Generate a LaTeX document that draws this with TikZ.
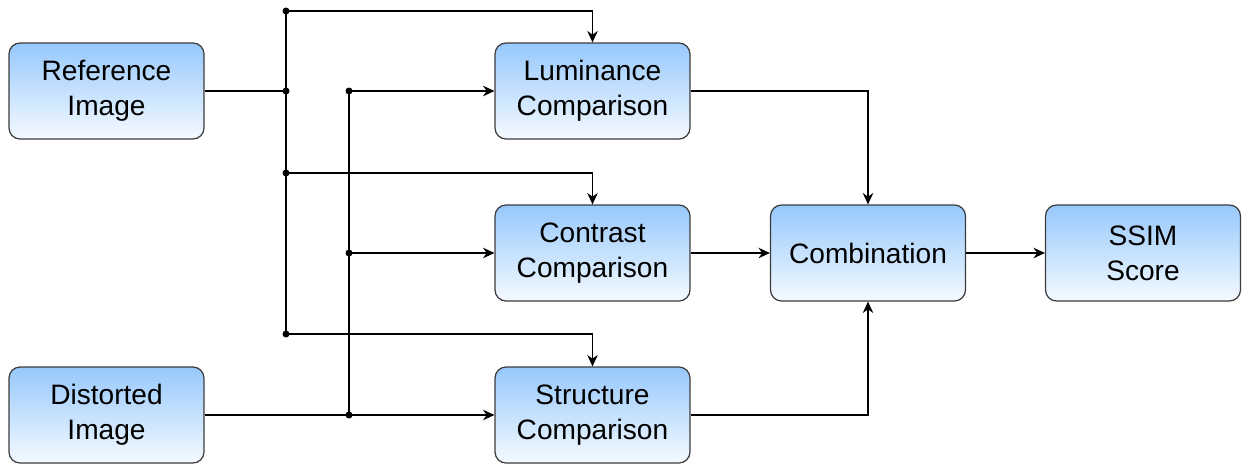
\documentclass[tikz,border=0pt]{standalone}
\usepackage{fontspec}
\setmainfont{Liberation Sans}
\usetikzlibrary{arrows.meta}
\definecolor{boxtop}{RGB}{150,200,252}
\definecolor{boxbot}{RGB}{245,250,255}
\definecolor{boxline}{RGB}{60,60,60}

\tikzset{
  block/.style={draw=boxline, line width=0.7pt, rounded corners=0.22cm,
    top color=boxtop, bottom color=boxbot,
    minimum width=3.9cm, minimum height=1.92cm, align=center,
    font=\fontsize{16}{20}\selectfont},
  wire/.style={line width=0.8pt},
  joint/.style={circle, fill=black, inner sep=0pt, minimum size=0.14cm}
}

\begin{document}
\begin{tikzpicture}[x=0.02cm, y=-0.02cm, >={Stealth[length=6.5pt, width=6pt]}]
    \useasboundingbox (0,0) rectangle (1247,464);
        % inputs
        \node [block] (ref) at (106.5, 91) {Reference\\Image};
        \node [block] (dist) at (106.5, 415) {Distorted\\Image};
        % comparison stages
        \node [block] (lum) at (592.5, 91) {Luminance\\Comparison};
        \node [block] (con) at (592.5, 253) {Contrast\\Comparison};
        \node [block] (str) at (592.5, 415) {Structure\\Comparison};
        % output
        \node [block] (comb) at (868, 253) {Combination};
        \node [block] (ssim) at (1143, 253) {SSIM\\Score};

        % junctions on the reference bus
        \coordinate (r0) at (286, 11);
        \coordinate (r1) at (286, 91);
        \coordinate (r2) at (286, 173);
        \coordinate (r3) at (286, 334);
        % junctions on the distorted bus
        \coordinate (d1) at (349, 91);
        \coordinate (d2) at (349, 253);
        \coordinate (d3) at (349, 415);

        \draw [wire] (ref.east) -- (r1);
        \draw [wire] (r0) -- (r3);
        \draw [wire] (d1) -- (d3);

        \draw [wire, ->] (r0) -| (lum.north);
        \draw [wire, ->] (r2) -| (con.north);
        \draw [wire, ->] (r3) -| (str.north);

        \draw [wire, ->] (d1) -- (lum.west);
        \draw [wire, ->] (d2) -- (con.west);
        \draw [wire, ->] (dist.east) -- (str.west);

        \draw [wire, ->] (lum.east) -| (comb.north);
        \draw [wire, ->] (con.east) -- (comb.west);
        \draw [wire, ->] (str.east) -| (comb.south);
        \draw [wire, ->] (comb.east) -- (ssim.west);

        \foreach \p in {r0, r1, r2, r3, d1, d2, d3}
            \node [joint] at (\p) {};
\end{tikzpicture}
\end{document}
